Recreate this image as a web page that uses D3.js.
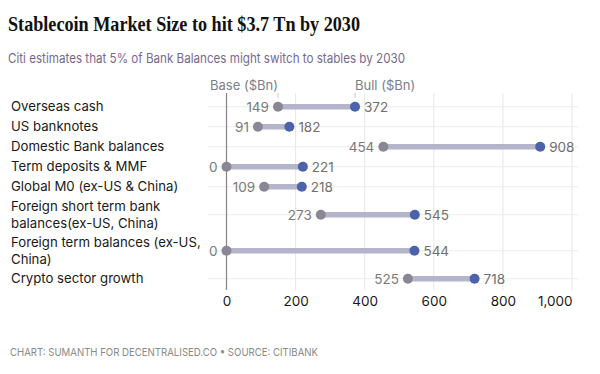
<!DOCTYPE html>
<html>
<head>
<meta charset="utf-8">
<script src="https://cdn.jsdelivr.net/npm/d3@7"></script>
<style>
  html, body { margin: 0; padding: 0; background: #fff; }
  svg { display: block; }
</style>
</head>
<body>
<svg id="chart" width="600" height="374"></svg>
<script>
// ---- Data ----
const categories = [
  "Overseas cash",
  "US banknotes",
  "Domestic Bank balances",
  "Term deposits & MMF",
  "Global M0 (ex-US & China)",
  "Foreign short term bank\nbalances(ex-US, China)",
  "Foreign term balances (ex-US,\nChina)",
  "Crypto sector growth"
];
const baseValues = [149, 91, 454, 0, 109, 273, 0, 525];
const bullValues = [372, 182, 908, 221, 218, 545, 544, 718];
const xTicks = [0, 200, 400, 600, 800, 1000];
const seriesNames = ["Base ($Bn)", "Bull ($Bn)"];

const title = "Stablecoin Market Size to hit $3.7 Tn by 2030";
const subtitle = "Citi estimates that 5% of Bank Balances might switch to stables by 2030";
const footer = "CHART: SUMANTH FOR DECENTRALISED.CO \u2022 SOURCE: CITIBANK";

// ---- Setup ----
const svg = d3.select("#chart");
const sans = "Inter, Roboto, 'Noto Sans', sans-serif";

const x = d3.scaleLinear().domain([0, 1000]).range([226.5, 572]);

// rows: height depends on number of label lines
const lines = categories.map(c => c.split("\n"));
const weights = lines.map(l => l.length === 1 ? 1 : 1.8);
const cum = [0];
weights.forEach(w => cum.push(cum[cum.length - 1] + w));
const yUnits = d3.scaleLinear().domain([0, cum[cum.length - 1]]).range([96.7, 288.7]);
const yCenter = i => yUnits(cum[i] + weights[i] / 2);

// ---- Title / subtitle ----
svg.append("text")
  .attr("x", 8).attr("y", 31)
  .attr("font-family", "'Liberation Serif', 'DejaVu Serif', serif")
  .attr("font-weight", "bold")
  .attr("font-size", 22)
  .attr("fill", "#111")
  .attr("textLength", 352).attr("lengthAdjust", "spacingAndGlyphs")
  .text(title);

svg.append("text")
  .attr("x", 8).attr("y", 63)
  .attr("font-family", sans)
  .attr("font-size", 13)
  .attr("fill", "#76698f")
  .attr("textLength", 397).attr("lengthAdjust", "spacingAndGlyphs")
  .text(subtitle);

// ---- Grid ----
const grid = svg.append("g");
grid.selectAll("line.v").data(xTicks.slice(1)).join("line")
  .attr("x1", d => x(d)).attr("x2", d => x(d))
  .attr("y1", 93).attr("y2", 290)
  .attr("stroke", "#e6e6e6").attr("stroke-width", 1);

grid.selectAll("line.h").data(categories).join("line")
  .attr("x1", 208).attr("x2", 578)
  .attr("y1", (d, i) => yCenter(i)).attr("y2", (d, i) => yCenter(i))
  .attr("stroke", "#ededed").attr("stroke-width", 1);

// zero axis line
svg.append("line")
  .attr("x1", x(0)).attr("x2", x(0))
  .attr("y1", 93).attr("y2", 290)
  .attr("stroke", "#8a8a8a").attr("stroke-width", 1.3);

// ---- X axis labels ----
const xAxis = d3.axisBottom(x).tickValues(xTicks).tickFormat(d3.format(",")).tickSize(0).tickPadding(0);
const ax = svg.append("g").attr("transform", "translate(0,293)").call(xAxis);
ax.select(".domain").remove();
ax.selectAll("text")
  .attr("font-family", sans)
  .attr("font-size", 13.5)
  .attr("fill", "#1a1a1a")
  .attr("dy", "0.95em");
ax.selectAll(".tick").filter(d => d === 1000).select("text").attr("text-anchor", "end").attr("x", 0);

// ---- Row labels ----
const rowLabels = svg.append("g");
lines.forEach((ls, i) => {
  const cy = yCenter(i);
  const lh = 16.5;
  const t = rowLabels.append("text")
    .attr("font-family", sans)
    .attr("font-size", 13.2)
    .attr("fill", "#1a1a1a");
  ls.forEach((s, j) => {
    t.append("tspan")
      .attr("x", 11)
      .attr("y", cy + (j - (ls.length - 1) / 2) * lh)
      .attr("dy", "0.35em")
      .text(s);
  });
});

// ---- Dumbbells ----
const marks = svg.append("g");
marks.selectAll("line.conn").data(categories).join("line")
  .attr("x1", (d, i) => x(baseValues[i]))
  .attr("x2", (d, i) => x(bullValues[i]))
  .attr("y1", (d, i) => yCenter(i)).attr("y2", (d, i) => yCenter(i))
  .attr("stroke", "#b4b4ca").attr("stroke-width", 5.5);

marks.selectAll("circle.base").data(categories).join("circle")
  .attr("cx", (d, i) => x(baseValues[i]))
  .attr("cy", (d, i) => yCenter(i))
  .attr("r", 5)
  .attr("fill", "#8b8693");

marks.selectAll("circle.bull").data(categories).join("circle")
  .attr("cx", (d, i) => x(bullValues[i]))
  .attr("cy", (d, i) => yCenter(i))
  .attr("r", 5)
  .attr("fill", "#4c62ab");

// value labels
marks.selectAll("text.bl").data(categories).join("text")
  .attr("x", (d, i) => x(baseValues[i]) - 9)
  .attr("y", (d, i) => yCenter(i))
  .attr("dy", "0.36em")
  .attr("text-anchor", "end")
  .attr("font-family", sans)
  .attr("font-size", 13.5)
  .attr("fill", "#7a7a7a")
  .text((d, i) => baseValues[i]);

marks.selectAll("text.ul").data(categories).join("text")
  .attr("x", (d, i) => x(bullValues[i]) + 9)
  .attr("y", (d, i) => yCenter(i))
  .attr("dy", "0.36em")
  .attr("text-anchor", "start")
  .attr("font-family", sans)
  .attr("font-size", 13.5)
  .attr("fill", "#6f6f6f")
  .text((d, i) => bullValues[i]);

// ---- Series annotations above first row ----
const annX = [x(baseValues[0]), x(bullValues[0])];
const ann = svg.append("g");
ann.selectAll("line").data(annX).join("line")
  .attr("x1", d => d).attr("x2", d => d)
  .attr("y1", 93).attr("y2", 98)
  .attr("stroke", "#c8c8c8").attr("stroke-width", 1);
ann.selectAll("text").data(seriesNames).join("text")
  .attr("x", (d, i) => annX[i])
  .attr("y", 90)
  .attr("text-anchor", (d, i) => i === 0 ? "end" : "start")
  .attr("font-family", sans)
  .attr("font-size", 13)
  .attr("fill", "#7b7f8c")
  .text(d => d);

// ---- Footer ----
svg.append("text")
  .attr("x", 10).attr("y", 356)
  .attr("font-family", sans)
  .attr("font-size", 11)
  .attr("fill", "#8a8a8a")
  .attr("textLength", 308).attr("lengthAdjust", "spacingAndGlyphs")
  .text(footer);
</script>
</body>
</html>
